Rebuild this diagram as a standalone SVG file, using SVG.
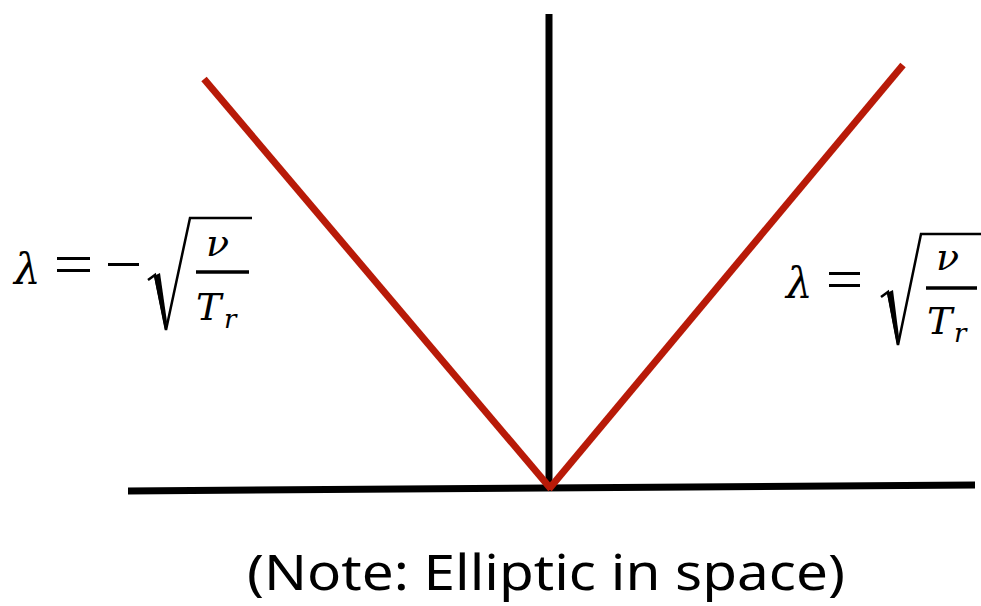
<svg xmlns="http://www.w3.org/2000/svg" width="981" height="606" viewBox="0 0 981 606">
<style>
.ax{stroke:#000;stroke-width:7;fill:none;stroke-linecap:butt}
.rd{stroke:#B81A08;stroke-width:7;fill:none}
.m{font-family:"DejaVu Serif",serif;font-style:italic;fill:#000}
.n{font-family:"DejaVu Serif",serif;fill:#000}
.rad{stroke:#000;fill:none;stroke-width:2.5;stroke-linejoin:miter}
.bar{stroke:#000;stroke-width:3.5}
.note{font-family:"Noto Sans","Open Sans",sans-serif;font-size:50px;fill:#000}
</style>
<rect width="981" height="606" fill="#fff"/>
<g id="connectors">
<line class="ax" x1="128" y1="491" x2="975" y2="485"/>
<line class="ax" x1="549" y1="14" x2="549" y2="491"/>
<line class="rd" x1="204" y1="79" x2="551" y2="489"/>
<line class="rd" x1="549" y1="489" x2="903" y2="65"/>
</g>
<g id="label-left">
<text class="m" x="14" y="284" font-size="42">λ</text>
<rect x="57" y="257" width="33" height="3" fill="#000"/>
<rect x="57" y="269" width="33" height="3" fill="#000"/>
<rect x="108" y="263" width="31" height="3" fill="#000"/>
<path class="rad" d="M148,280 L155,275 L166,330 L190,218 L252,218"/>
<path d="M154,276 L160,273 L167,322 L165,330 Z" fill="#000"/>
<text class="m" x="206" y="256" font-size="38">ν</text>
<line class="bar" x1="196" y1="272" x2="249" y2="272"/>
<text class="m" x="196" y="320" font-size="38">T</text>
<text class="m" x="224" y="328" font-size="26">r</text>
</g>
<g id="label-right">
<text class="m" x="786" y="298" font-size="42">λ</text>
<rect x="829" y="272" width="31" height="3" fill="#000"/>
<rect x="829" y="284" width="31" height="3" fill="#000"/>
<path class="rad" d="M881,297 L888,292 L898,345 L921,234 L981,234"/>
<path d="M887,293 L893,290 L899,337 L897,345 Z" fill="#000"/>
<text class="m" x="936" y="270" font-size="38">ν</text>
<line class="bar" x1="926" y1="288" x2="977" y2="288"/>
<text class="m" x="927" y="334" font-size="38">T</text>
<text class="m" x="954" y="342" font-size="26">r</text>
</g>
<g id="note">
<text class="note" x="247" y="590" textLength="598" lengthAdjust="spacingAndGlyphs">(Note: Elliptic in space)</text>
</g>
</svg>
